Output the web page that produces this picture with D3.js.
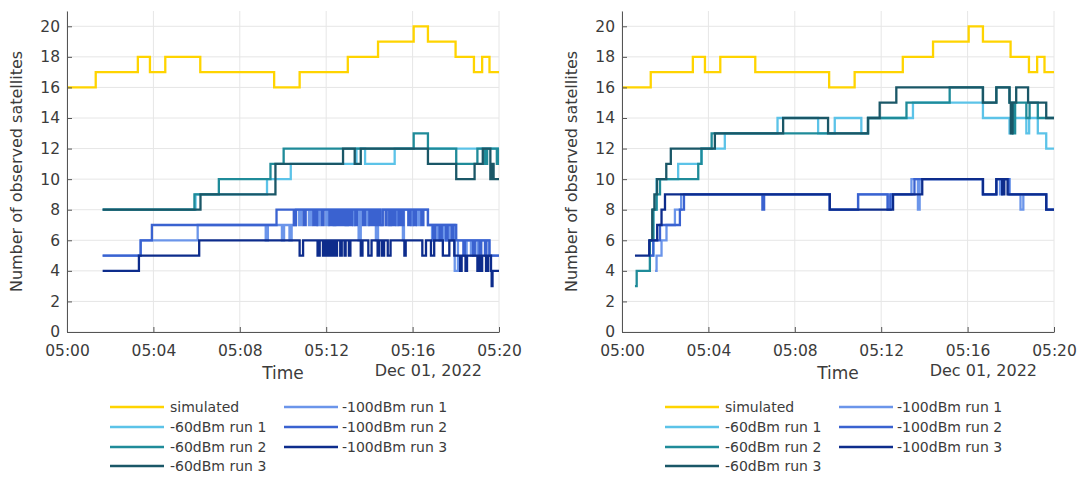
<!DOCTYPE html>
<html lang="en">
<head>
<meta charset="utf-8">
<script src="https://cdnjs.cloudflare.com/ajax/libs/d3/7.8.5/d3.min.js"></script>
<style>
    body { margin: 0; background: #fff; }
    text { font-family: "DejaVu Sans", sans-serif; fill: #3b3b3b; }
    .grid line { stroke: #e6e6e6; stroke-width: 1; }
    .axis path, .axis line { stroke: #555; }
    .axis text { font-size: 15.5px; fill: #3b3b3b; }
    .run { fill: none; stroke-width: 2.3; }
</style>
</head>
<body>
<svg width="1080" height="477"></svg>
<script>
    // legend entries and colours
    var seriesNames = ["simulated", "-60dBm run 1", "-60dBm run 2", "-60dBm run 3",
        "-100dBm run 1", "-100dBm run 2", "-100dBm run 3"];
    var seriesColors = ["#ffd400", "#5cc3e8", "#1f8b99", "#1a5767",
        "#6b95ea", "#3a62d0", "#0d2c8c"];

    var yTicks = [0, 2, 4, 6, 8, 10, 12, 14, 16, 18, 20];
    var timeTicks = [0, 4, 8, 12, 16, 20]; // minutes after 05:00
    var dateLabel = "Dec 01, 2022";

    // [minutes after 05:00, satellites]  (step after)
    var simulated = [[0, 16], [1.33, 17], [3.28, 18], [3.84, 17], [4.55, 18], [6.17, 17], [9.59, 16],
        [10.77, 17], [13.0, 18], [14.4, 19], [16.05, 20], [16.71, 19], [17.99, 18], [18.84, 17],
        [19.22, 18], [19.56, 17], [20, 17]];

    // left panel
    var left60r1 = [[1.65, 8], [5.95, 9], [9.26, 10], [10.36, 11], [13.4, 12], [13.8, 11], [15.17, 12],
        [20, 12]];
    var left60r2 = [[1.65, 8], [5.9, 9], [7.03, 10], [9.42, 11], [10.03, 12], [16.05, 13], [16.71, 12],
        [18.02, 11], [19.0, 12], [19.35, 11], [19.45, 12], [19.9, 11], [19.95, 12], [20, 12]];
    var left60r3 = [[1.65, 8], [6.18, 9], [9.65, 11], [12.78, 12], [13.32, 11], [13.6, 12], [16.71, 11],
        [18.02, 10], [18.87, 11], [19.25, 12], [19.6, 10], [19.7, 11], [19.75, 10], [20, 10]];
    var left100r1 = [[1.65, 5], [3.41, 6], [6.05, 7], [9.2, 6], [9.3, 7], [9.95, 6], [10.05, 7], [10.3, 6],
        [10.4, 7], [10.6, 8], [10.75, 7], [10.85, 8], [11.2, 7], [11.3, 8], [11.6, 7], [11.7, 8], [12.0, 7],
        [12.1, 8], [12.35, 7], [12.42, 8], [12.9, 7], [13.0, 8], [13.25, 7], [13.3, 8], [13.5, 6],
        [13.6, 8], [13.9, 7], [13.95, 8], [14.3, 6], [14.4, 8], [14.55, 7], [14.6, 8], [14.9, 7], [15.0, 8],
        [15.25, 7], [15.3, 8], [15.55, 6], [15.6, 8], [15.95, 7], [16.0, 8], [16.2, 7], [16.3, 8],
        [16.71, 7], [16.9, 6], [17.0, 7], [17.15, 6],
        [17.25, 7], [17.4, 6], [17.5, 7], [17.6, 6], [17.7, 7], [17.95, 4], [18.1, 6], [18.4, 5], [18.5, 6],
        [18.7, 5], [18.8, 6], [19.0, 5], [19.1, 6], [19.55, 5], [20, 5]];
    var left100r2 = [[1.65, 5], [3.41, 6], [3.93, 7], [9.7, 8], [10.5, 7], [10.6, 8], [10.95, 7], [11.05, 8],
        [11.4, 7], [11.45, 8], [11.5, 7], [11.58, 8], [11.8, 7], [11.88, 8], [12.15, 7], [12.22, 8],
        [12.3, 7], [12.38, 8], [12.45, 7], [12.52, 8], [12.6, 7], [12.7, 8], [12.8, 7], [12.85, 8],
        [12.95, 7], [13.02, 8], [13.1, 7], [13.2, 8], [13.35, 7], [13.42, 8], [13.7, 7], [13.8, 8],
        [14.0, 7], [14.1, 8], [14.2, 7], [14.25, 8], [14.35, 7], [14.42, 8],
        [14.5, 7], [14.62, 8], [14.75, 7], [14.8, 8], [14.92, 7], [15.0, 8], [15.1, 7], [15.2, 8],
        [15.35, 7], [15.4, 8], [15.5, 7], [15.58, 8],
        [15.8, 7], [15.9, 8], [16.05, 7], [16.15, 8], [16.4, 7], [16.5, 8], [16.71, 7], [16.95, 6],
        [17.05, 7], [17.25, 6], [17.35, 7], [17.55, 6], [17.62, 7], [17.8, 6], [17.88, 7], [18.02, 6],
        [18.35, 5], [18.42, 6], [18.8, 5], [18.88, 6], [19.1, 5], [19.18, 6], [19.35, 5], [19.42, 6],
        [19.56, 5], [20, 5]];
    var left100r3 = [[1.65, 4], [3.33, 5], [6.12, 6], [10.77, 5], [10.93, 6], [11.6, 5], [11.7, 6],
        [11.85, 5], [11.95, 6], [12.05, 5], [12.12, 6], [12.2, 5], [12.3, 6], [12.4, 5], [12.5, 6],
        [12.65, 5], [12.72, 6], [12.85, 5], [12.9, 6], [13.05, 5], [13.12, 6], [13.6, 5], [13.68, 6],
        [13.95, 5], [14.1, 6], [14.38, 5], [14.45, 6], [14.58, 5], [14.68, 6], [14.85, 5], [14.98, 6],
        [15.62, 5], [15.68, 6], [16.45, 5], [16.62, 6], [16.85, 5], [17.0, 6], [17.4, 5], [17.7, 6],
        [17.93, 5], [18.2, 4], [18.27, 5], [18.45, 4], [18.52, 5], [19.0, 4], [19.05, 5], [19.15, 4],
        [19.22, 5], [19.4, 4], [19.5, 5], [19.63, 4], [19.66, 3], [19.7, 4], [20, 4]];

    // right panel
    var right60r1 = [[1.35, 5], [1.45, 8], [1.6, 10], [2.6, 11], [3.68, 12], [4.76, 13], [7.2, 14],
        [9.08, 13], [9.85, 14], [11.08, 13], [11.39, 14], [13.47, 15], [16.71, 14], [17.94, 13],
        [18.05, 14], [18.72, 13], [18.85, 14], [19.25, 13], [19.64, 12], [20, 12]];
    var right60r2 = [[0.6, 3], [0.68, 4], [1.29, 6], [1.45, 8], [1.6, 9], [1.76, 10], [3.53, 11],
        [3.68, 12], [4.15, 13], [11.39, 14], [13.17, 15], [15.17, 16], [16.71, 15], [17.33, 16],
        [17.94, 15], [18.1, 13], [18.2, 15], [18.72, 14], [18.87, 15], [19.25, 14], [20, 14]];
    var right60r3 = [[1.25, 6], [1.4, 8], [1.5, 9], [1.62, 10], [2.05, 11], [2.26, 12], [4.3, 13],
        [7.46, 14], [9.54, 13], [11.39, 14], [11.93, 15], [12.7, 16], [16.71, 15], [17.33, 16],
        [17.94, 15], [18.0, 13], [18.08, 15], [18.25, 16], [18.8, 15], [19.64, 14], [20, 14]];
    var right100r1 = [[1.53, 4], [1.6, 5], [1.83, 6], [2.06, 7], [2.45, 8], [2.74, 9], [9.62, 8],
        [10.93, 9], [12.3, 8], [12.45, 9], [13.4, 10], [13.7, 8], [13.78, 10], [16.71, 9], [17.33, 10],
        [17.5, 9], [17.6, 10], [17.95, 9], [18.45, 8], [18.58, 9], [19.64, 8], [20, 8]];
    var right100r2 = [[1.3, 5], [1.45, 6], [1.76, 7], [2.68, 8], [2.87, 9], [6.5, 8], [6.58, 9],
        [9.62, 8], [10.93, 9], [12.3, 8], [12.42, 9], [13.54, 10], [16.71, 9], [17.33, 10], [17.9, 9],
        [19.64, 8], [20, 8]];
    var right100r3 = [[0.6, 5], [1.26, 6], [1.63, 7], [1.83, 8], [1.99, 9], [9.62, 8], [12.55, 9],
        [13.9, 10], [16.71, 9], [17.33, 10], [17.6, 9], [17.7, 10], [17.85, 9], [19.64, 8], [20, 8]];

    var leftSeries = [simulated, left60r1, left60r2, left60r3, left100r1, left100r2, left100r3];
    var rightSeries = [simulated, right60r1, right60r2, right60r3, right100r1, right100r2, right100r3];

    var svg = d3.select("svg");
    var start = new Date(2022, 11, 1, 5, 0, 0);
    function toDate(m) { return new Date(start.getTime() + m * 60000); }

    var plotW = 432, plotTop = 11, plotBottom = 332;

    function drawPanel(left, series) {
        var x = d3.scaleTime().domain([toDate(0), toDate(20)]).range([left, left + plotW]);
        var y = d3.scaleLinear().domain([0, 21]).range([plotBottom, plotTop]);

        // grid
        var grid = svg.append("g").attr("class", "grid");
        grid.selectAll(".gy").data(yTicks).enter().append("line")
            .attr("x1", left).attr("x2", left + plotW)
            .attr("y1", function (d) { return y(d); }).attr("y2", function (d) { return y(d); });
        grid.selectAll(".gx").data(timeTicks).enter().append("line")
            .attr("x1", function (d) { return x(toDate(d)); }).attr("x2", function (d) { return x(toDate(d)); })
            .attr("y1", plotTop).attr("y2", plotBottom);

        // lines
        var line = d3.line()
            .x(function (d) { return x(toDate(d[0])); })
            .y(function (d) { return y(d[1]); })
            .curve(d3.curveStepAfter);
        series.forEach(function (s, i) {
            svg.append("path").attr("class", "run")
                .attr("d", line(s))
                .attr("stroke", seriesColors[i]);
        });

        // axes (ticks pointing inward)
        svg.append("g").attr("class", "axis")
            .attr("transform", "translate(0," + plotBottom + ")")
            .call(d3.axisBottom(x).tickValues(timeTicks.map(toDate))
                .tickFormat(d3.timeFormat("%H:%M")).tickSizeInner(-5).tickSizeOuter(0).tickPadding(13));
        svg.append("g").attr("class", "axis")
            .attr("transform", "translate(" + left + ",0)")
            .call(d3.axisLeft(y).tickValues(yTicks).tickSizeInner(-5).tickSizeOuter(0).tickPadding(7));

        // labels
        svg.append("text")
            .attr("transform", "translate(" + (left - 45) + "," + ((plotTop + plotBottom) / 2) + ") rotate(-90)")
            .attr("text-anchor", "middle")
            .style("font-size", "16px")
            .text("Number of observed satellites");
        svg.append("text")
            .attr("x", left + plotW / 2).attr("y", 379)
            .attr("text-anchor", "middle")
            .style("font-size", "17px")
            .text("Time");
        svg.append("text")
            .attr("x", left + plotW - 17).attr("y", 376)
            .attr("text-anchor", "end")
            .style("font-size", "16px")
            .text(dateLabel);

        // legend, two columns
        var rows = [407, 427, 447, 466];
        seriesNames.forEach(function (name, i) {
            var col = i < 4 ? 0 : 1;
            var r = i < 4 ? i : i - 4;
            var lx = left + 43 + col * 174;
            var g = svg.append("g").attr("transform", "translate(" + lx + "," + rows[r] + ")");
            g.append("line").attr("x1", 0).attr("x2", 54)
                .attr("stroke", seriesColors[i]).attr("stroke-width", 2.5);
            g.append("text").attr("x", col ? 58 : 60).attr("dy", "0.36em")
                .style("font-size", "14px").text(name);
        });
    }

    drawPanel(67, leftSeries);
    drawPanel(622, rightSeries);
</script>
</body>
</html>
